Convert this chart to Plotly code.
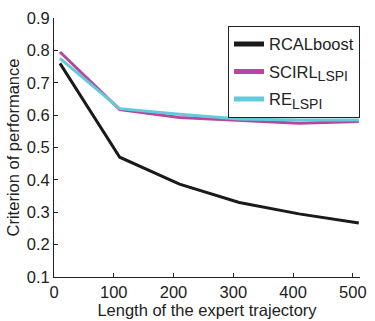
import plotly.graph_objects as go

x_vals = [10, 110, 210, 310, 410, 510]
rcal = [0.760, 0.470, 0.387, 0.330, 0.295, 0.267]
scirl = [0.795, 0.617, 0.593, 0.583, 0.575, 0.580]
re = [0.775, 0.620, 0.603, 0.588, 0.585, 0.585]
names = ["RCALboost",
         "SCIRL<sub><span style='font-size:14px'>LSPI</span></sub>",
         "RE<sub><span style='font-size:14px'>LSPI</span></sub>"]
colors = ["#1a1a1a", "#b5479f", "#62cadb"]

fig = go.Figure()
for i, (ys, n, c) in enumerate(zip([rcal, scirl, re], names, colors)):
    fig.add_trace(go.Scatter(x=x_vals, y=ys, mode="lines", name=n,
                             legendgroup=f"g{i}",
                             line=dict(color=c, width=3)))

font = dict(family="Liberation Sans, Arial, sans-serif", size=16.5, color="#222")
fig.update_layout(
    width=375, height=321,
    margin=dict(l=54, r=9, t=14, b=40),
    paper_bgcolor="white", plot_bgcolor="white",
    font=font,
    showlegend=True,
    legend=dict(x=1, y=0.97, xanchor="right", yanchor="top",
                bordercolor="#222", borderwidth=1, bgcolor="white",
                font=dict(size=16.5), tracegroupgap=3, itemwidth=30,
                itemsizing="constant"),
    xaxis=dict(range=[0, 512], tickvals=[0, 100, 200, 300, 400, 500],
               ticks="inside", ticklen=4, tickcolor="#222", showline=True,
               linecolor="#222", linewidth=1, showgrid=False, zeroline=False,
               title=dict(text="Length of the expert trajectory", standoff=0,
                          font=dict(size=16.5))),
    yaxis=dict(range=[0.1, 0.9], tickvals=[0.1, 0.2, 0.3, 0.4, 0.5, 0.6, 0.7, 0.8, 0.9],
               tickformat=".1f",
               ticks="inside", ticklen=4, tickcolor="#222", showline=True,
               linecolor="#222", linewidth=1, showgrid=False, zeroline=False,
               title=dict(text="Criterion of performance", standoff=2,
                          font=dict(size=16.5))),
)
fig.write_html("out.html")
